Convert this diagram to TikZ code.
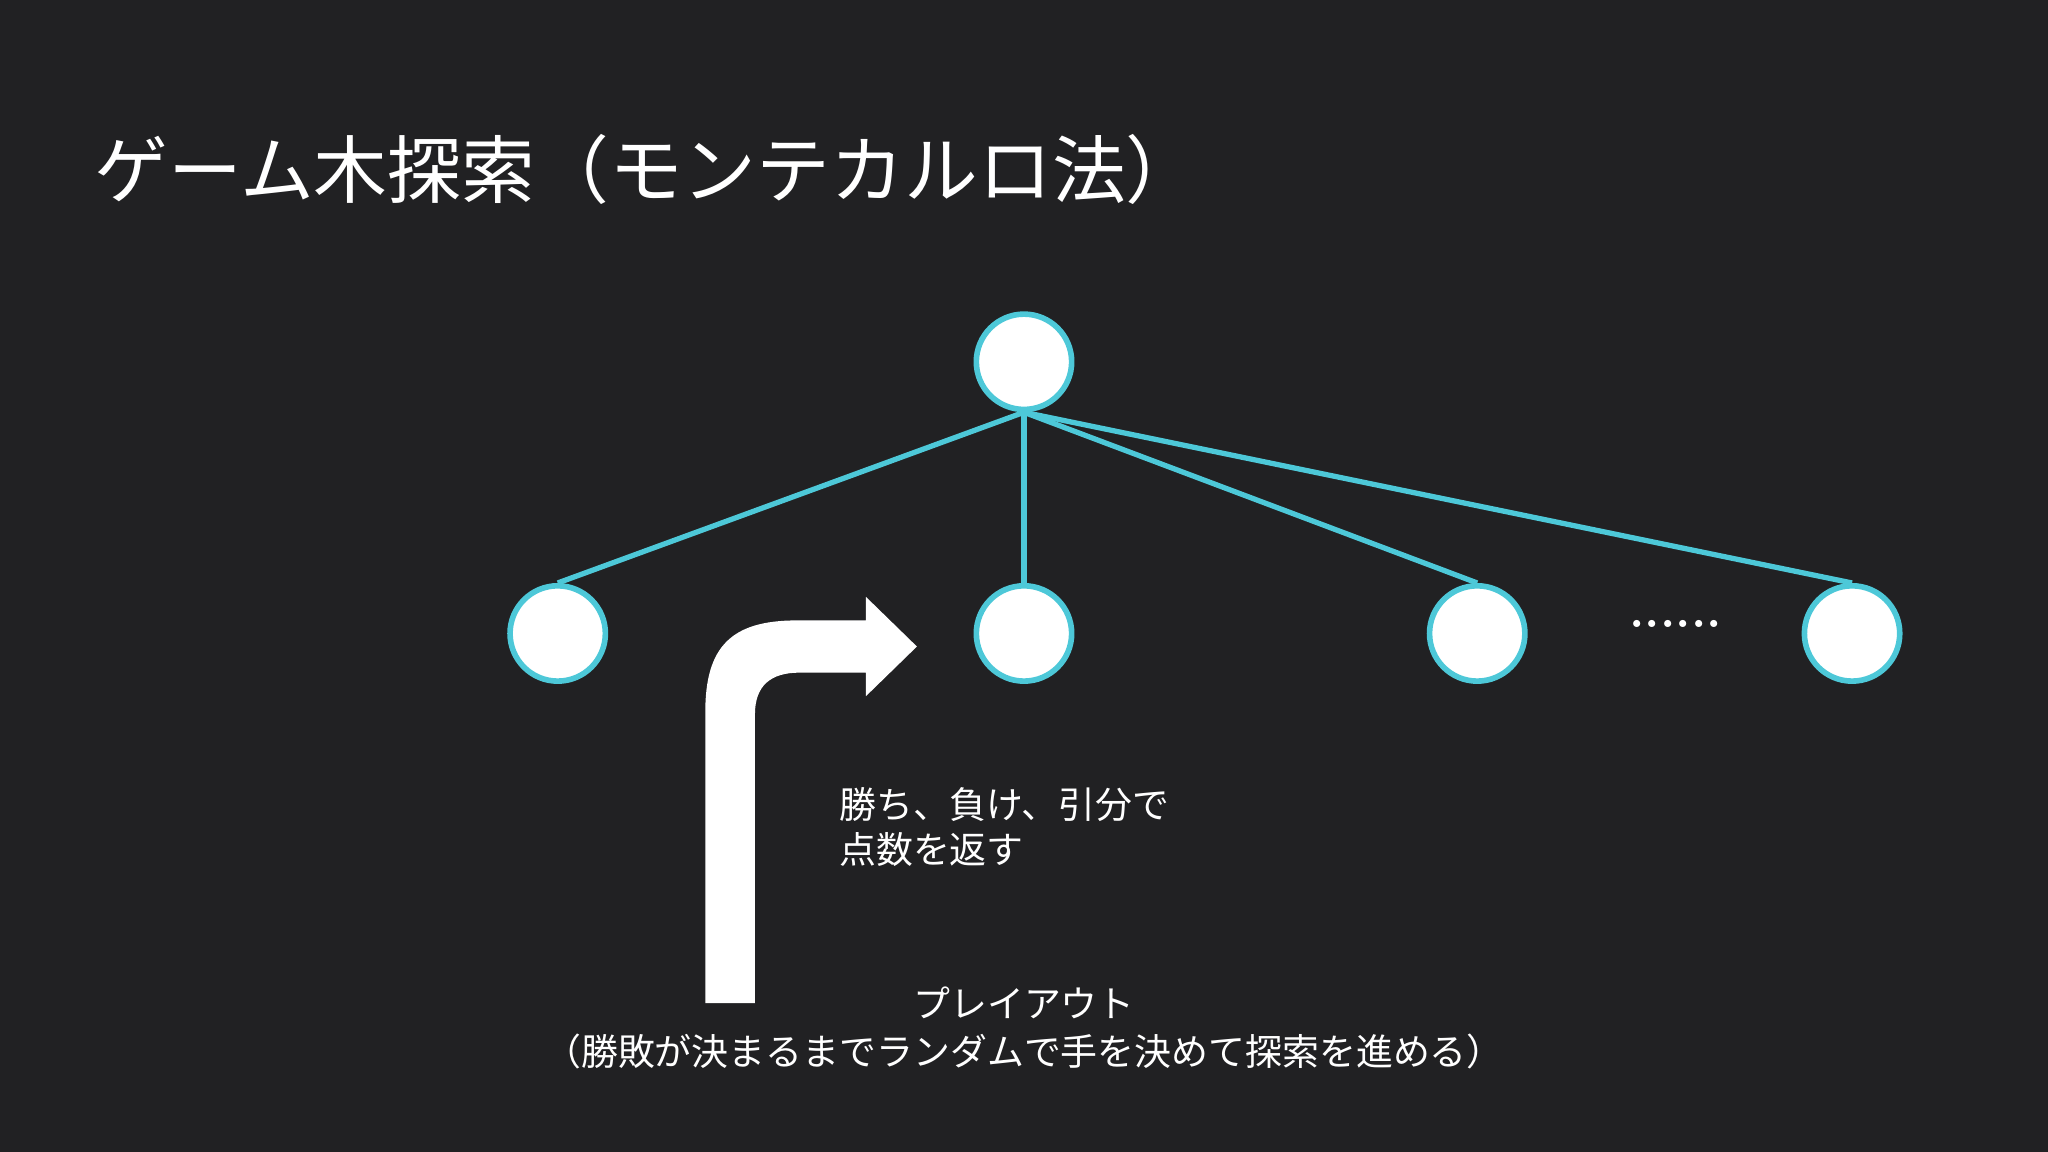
\documentclass[tikz,border=0pt]{standalone}
\usepackage{fontspec}
\newfontfamily\cjk{Noto Sans CJK JP}
\definecolor{bg}{RGB}{33,33,35}
\definecolor{cy}{RGB}{77,200,216}
\begin{document}
\begin{tikzpicture}[x=0.013061cm,y=-0.013061cm,
  tn/.style={circle,draw=cy,line width=1.6pt,fill=white,minimum size=73*0.013061cm,inner sep=0},
  ed/.style={draw=cy,line width=1.5pt},
  lab/.style={text=white,font=\cjk\fontsize{10.5}{13}\selectfont}]
\fill[bg] (0,0) rectangle (1568,882);
\useasboundingbox (0,0) rectangle (1568,882);
\node[anchor=west,text=white,font=\cjk\fontsize{21}{25}\selectfont,inner sep=0] (title) at (72,130) {ゲーム木探索（モンテカルロ法）};
\node[tn] (r) at (784,277) {};
\node[tn] (a) at (427,485) {};
\node[tn] (b) at (784,485) {};
\node[tn] (c) at (1131,485) {};
\node[tn] (d) at (1418,485) {};
\foreach \n in {a,b,c,d} \draw[ed] (r.south) -- (\n.north);
\node[text=white,font=\bfseries\fontsize{14}{14}\selectfont] (dots) at (1283,478) {......};
\fill[white] (540,768) -- (540,545) .. controls (540,495) and (560,475) .. (610,475) -- (663,475) -- (663,457) -- (702,495) -- (663,533) -- (663,515) -- (612,515) .. controls (590,515) and (578,525) .. (578,547) -- (578,768) -- cycle;
\node[lab,anchor=north west,align=left,inner sep=0] (ret) at (642,602) {勝ち、負け、引分で\\点数を返す};
\node[lab,inner sep=0] (po) at (784,768) {プレイアウト};
\node[lab,inner sep=0] (pod) at (784,805) {（勝敗が決まるまでランダムで手を決めて探索を進める）};
\end{tikzpicture}
\end{document}
